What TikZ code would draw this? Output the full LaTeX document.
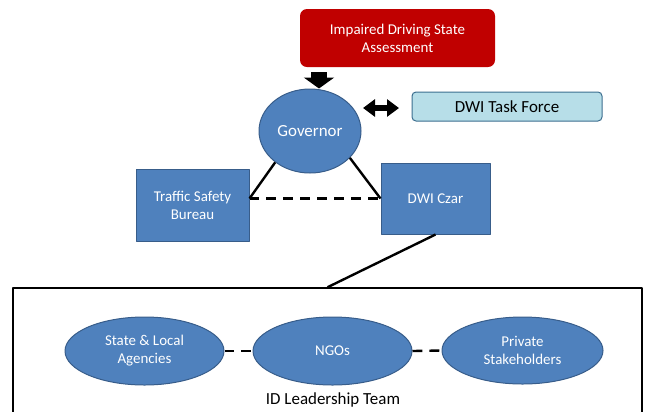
\documentclass[tikz,border=0pt]{standalone}
\usepackage{fontspec}
\setmainfont{Carlito}
\usetikzlibrary{arrows.meta,shapes.geometric}
\definecolor{boxblue}{HTML}{4F81BD}
\definecolor{boxline}{HTML}{385D8A}
\definecolor{assessred}{HTML}{C00000}
\definecolor{forcefill}{HTML}{B7DEE8}
\definecolor{forceline}{HTML}{3C6E8F}
\tikzset{
  bluebox/.style={draw=boxline,line width=1pt,fill=boxblue,text=white,align=center,font=\fontsize{15}{18}\selectfont,inner sep=2pt},
  blueoval/.style={bluebox,ellipse},
  link/.style={black,line width=2.4pt},
  dashlink/.style={link,dash pattern=on 10pt off 7pt},
}
\begin{document}
\begin{tikzpicture}[x=1bp,y=-1bp,line join=bevel]
\useasboundingbox (0,0) rectangle (647,411);
%%
\node (assess) at (397.5,38) [fill=assessred,rounded corners=7bp,minimum width=195bp,minimum height=58bp,text=white,align=center,font=\fontsize{15}{18}\selectfont] {Impaired Driving State\\Assessment};
  \node (gov) at (310,131) [blueoval,minimum width=102bp,minimum height=84bp,font=\fontsize{17}{20}\selectfont] {Governor};
  \node (taskforce) at (507,106.5) [draw=forceline,line width=1pt,fill=forcefill,rounded corners=4bp,minimum width=190bp,minimum height=29bp,font=\fontsize{17}{20}\selectfont] {DWI Task Force};
  \node (tsb) at (192.5,205) [bluebox,minimum width=113bp,minimum height=72bp] {Traffic Safety\\Bureau};
  \node (czar) at (435.5,198.5) [bluebox,minimum width=109bp,minimum height=71bp] {DWI Czar};
%
\node (team) at (327.5,353) [draw,black,line width=1.5pt,minimum width=629bp,minimum height=130bp] {};
  \node (agencies) at (144.5,351) [blueoval,minimum width=159bp,minimum height=68bp] {State \& Local\\Agencies};
  \node (ngos) at (332.5,351) [blueoval,minimum width=159bp,minimum height=68bp] {NGOs};
  \node (private) at (522.5,350.5) [blueoval,minimum width=161bp,minimum height=67bp] {Private\\Stakeholders};
  \node (teamlabel) at (333,400) [font=\fontsize{17}{20}\selectfont] {ID Leadership Team};
%
\coordinate (arrtop) at (319,72);
  \coordinate (dblleft) at (363,108);
  \coordinate (dblright) at (399,108);
  \coordinate (tsbjoin) at (tsb.east |- czar.west);
  \draw [black,line width=16bp,-{Triangle[width=30bp,length=11bp]}] (arrtop) -- (arrtop |- gov.north);
  \draw [black,line width=6bp,{Triangle[width=17bp,length=12bp]}-{Triangle[width=17bp,length=12bp]}] (dblleft) -- (dblright);
  \draw [link] (gov.-138) -- (tsbjoin);
  \draw [link] (gov.-34) -- (czar.west);
  \draw [dashlink] (tsbjoin) -- (czar.west);
  \draw [link] (czar.south) -- (team.north);
  \draw [dashlink] (agencies.east) -- (ngos.west);
  \draw [dashlink] (ngos.east) -- (private.west);
%
\end{tikzpicture}
\end{document}
